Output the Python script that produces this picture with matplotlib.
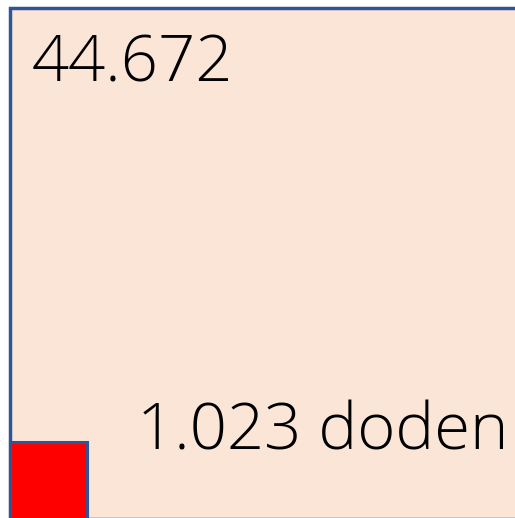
import numpy as np
import matplotlib
matplotlib.use("Agg")
import matplotlib.pyplot as plt
from matplotlib.patches import Rectangle

# Data
labels = ["44.672", "1.023 doden"]
values = [44672, 1023]
colors = ["#FBE5D6", "#FF0000"]

sides = np.sqrt(values)

W, H = 515, 518
fig = plt.figure(figsize=(W / 100, H / 100), dpi=100)
fig.patch.set_facecolor("white")
ax = fig.add_axes([0, 0, 1, 1])

# scale: pixels per sqrt-unit
s = 511 / sides[0]
x0_px, y0_px = 10, 519  # bottom-left corner of squares (pixels from top-left)
ax.set_xlim(-x0_px / s, (W - x0_px) / s)
ax.set_ylim((y0_px - H) / s, y0_px / s)
ax.axis("off")

edge = "#2F5597"
ax.add_patch(Rectangle((0, 0), sides[0], sides[0], facecolor=colors[0],
                       edgecolor=edge, linewidth=2.5, zorder=1))
ax.add_patch(Rectangle((0, 0), sides[1], sides[1], facecolor=colors[1],
                       edgecolor=edge, linewidth=2.2, zorder=2))

def px(xp, yp):
    return ((xp - x0_px) / s, (y0_px - yp) / s)

fam = ["Open Sans", "DejaVu Sans"]
ax.text(*px(32, 82), labels[0], fontsize=47, family=fam, weight="light",
        ha="left", va="baseline", color="black", zorder=3)
ax.text(*px(137, 449), labels[1], fontsize=47, family=fam, weight="light",
        ha="left", va="baseline", color="black", zorder=3)

fig.savefig("out.png", dpi=100)
